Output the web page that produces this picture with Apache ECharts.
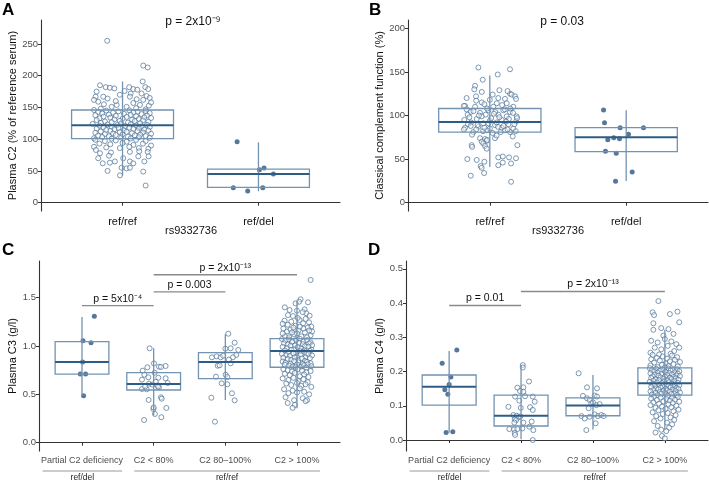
<!DOCTYPE html>
<html><head><meta charset="utf-8">
<script src="https://cdn.jsdelivr.net/npm/echarts@6/dist/echarts.min.js"></script>
<style>html,body{margin:0;padding:0;background:#fff}#c{width:709px;height:484px}</style>
</head><body><div id="c"></div><script>
const FONT = 'Liberation Sans, Arial, sans-serif';
const catsAB = ['ref/ref', 'ref/del'];
const catsCD = ['Partial C2 deficiency', 'C2 < 80%', 'C2 80\u2013100%', 'C2 > 100%'];
const ticksA = [0, 50, 100, 150, 200, 250];
const ticksB = [0, 50, 100, 150, 200];
const ticksC = [0, 0.5, 1.0, 1.5];
const ticksD = [0, 0.1, 0.2, 0.3, 0.4, 0.5];

// box stats: [category, whiskerLow, Q1, median, Q3, whiskerHigh]
const boxA = [[1, 42, 101, 122, 146, 191], [2, 18, 24, 45, 53, 95]];
const boxB = [[1, 41, 81, 92.5, 108, 146], [2, 25, 58.5, 75, 86, 106]];
const boxC = [[1, 0.483, 0.71, 0.835, 1.045, 1.30], [2, 0.28, 0.545, 0.607, 0.724, 0.976], [3, 0.442, 0.662, 0.835, 0.931, 1.121], [4, 0.356, 0.78, 0.948, 1.076, 1.465]];
const boxD = [[1, 0.021, 0.102, 0.156, 0.19, 0.26], [2, 0.002, 0.041, 0.071, 0.131, 0.219], [3, 0.031, 0.071, 0.101, 0.123, 0.19], [4, 0.029, 0.131, 0.166, 0.211, 0.322]];

// points: [jitter offset, value]
const A_refref = [[-0.113,255],[0.152,216],[0.185,213],[0.148,191],[-0.166,185],[-0.124,182],[-0.093,181],[-0.061,180],[0.049,182],[0.079,179],[0.108,178],[0.167,182],[0.189,179],[-0.191,175],[0.06,172],[0.14,172],[-0.198,167],[-0.142,167],[0.054,167],[0.177,168],[0.104,163],[0.152,162],[-0.179,159],[-0.137,155],[-0.043,154],[0.079,157],[0.128,154],[0.194,153],[-0.08,151],[0.03,151],
[-0.21,162],[-0.02,170],[0.2,165],[-0.16,148],[0.1,149],[-0.05,160],[0.17,147],[0.015,176],[-0.11,164],[0.21,158],
[-0.21,146],[0.05,145.5],[-0.12,145],[0.17,144.4],[-0.03,143.9],[0.11,143.3],[-0.18,142.8],[0.08,142.2],[-0.07,141.7],[0.2,141.1],
[-0.15,140.6],[0.01,140],[0.14,139.5],[-0.1,138.9],[0.06,138.4],[-0.2,137.8],[0.18,137.3],[-0.05,136.7],[0.1,136.2],[-0.14,135.6],
[0.03,135.1],[0.16,134.5],[-0.09,134],[0.21,133.4],[-0.17,132.9],[0.0,132.3],[0.12,131.8],[-0.06,131.2],[0.07,130.7],[-0.19,130.1],
[0.15,129.6],[-0.02,129],[0.09,128.5],[-0.13,127.9],[0.19,127.4],[-0.08,126.8],[0.04,126.3],[-0.16,125.7],[0.13,125.2],[-0.01,124.6],
[-0.22,124.1],[0.06,123.6],[-0.11,123.1],[0.18,122.6],[-0.04,122.1],[0.1,121.6],[-0.17,121.1],[0.02,120.6],[0.14,120.1],[-0.08,119.6],
[0.2,119.1],[-0.14,118.6],[0.05,118.1],[-0.03,117.6],[0.12,117.1],[-0.19,116.6],[0.08,116.1],[-0.06,115.6],[0.16,115.1],[-0.12,114.6],
[0.01,114.1],[0.19,113.6],[-0.09,113.1],[0.11,112.6],[-0.16,112.1],[0.03,111.6],[-0.02,111.1],[0.15,110.6],[-0.2,110.1],[0.07,109.6],
[-0.07,109.1],[0.21,108.6],[-0.13,108.1],[0.0,107.6],[0.13,107.1],[-0.05,106.6],[0.09,106.1],[-0.18,105.6],[0.17,105.1],[-0.1,104.6],
[0.04,104.1],[-0.15,103.6],[0.12,103.1],[-0.01,102.6],[0.2,102.1],[-0.21,101.6],[0.06,101.2],[-0.08,100.8],
[-0.2,99],[-0.13,97],[-0.05,98],[0.03,96],[0.1,99],[0.17,97],[-0.17,93],[-0.09,92],[0.0,94],[0.08,91],[0.15,93],[0.21,90],[-0.21,88],[-0.12,87],[-0.02,86],[0.05,88],[0.12,86],[0.19,85],
[-0.196,83],[-0.166,78],[-0.085,79],[0.054,80],[0.123,81],[0.185,80],[-0.179,70],[-0.1,74],[0.005,70],[0.116,73],[0.192,73],[-0.146,62],[-0.093,63],[-0.056,65],[0.054,65],[0.079,62],[0.16,65],[-0.11,50],[-0.007,55],[0.03,54],[0.054,55],[0.152,49],[-0.019,43],[0.17,27]];
const A_refdel = [[-0.157,96],[0.007,52],[0.041,54.7],[0.11,45.2],[-0.185,23.6],[0.032,23.6],[-0.079,18.4]];

const B_refref = [[-0.084,155],[0.148,153],[0.058,147],[-0.052,141],[-0.108,134],[-0.114,130],[0.07,129],[-0.059,127],[0.021,124],[0.148,125],[0.16,124],[-0.101,122],[0.185,122],[0.062,120],[0.111,119],[0.192,119],[-0.059,115],[-0.04,113],[0.051,114],[0.124,114],[-0.182,111],[-0.19,111],[-0.108,110],[0.026,110],[0.172,110],[-0.14,104],[-0.072,103],[-0.011,106],[0.099,106],[0.148,104],[-0.162,101],[-0.03,101],[0.062,101],[0.124,99],[0.197,99],[-0.187,95],[-0.096,96],[0,94],[0.087,95],[0.192,93],[-0.138,92],[-0.048,91],[0.038,89],[0.136,90],[-0.182,86],[-0.084,87],[0,85],[0.087,86],[0.172,85],[-0.121,81],[-0.023,83],[0.111,83],[0.148,81],[-0.072,74],[-0.035,73],[0.038,74],[0.168,76],[-0.059,70],[-0.023,71],[-0.048,68],[-0.133,66],[0.202,66],[-0.035,65],[-0.023,62],[-0.13,64],[-0.165,50],[-0.096,49],[-0.04,47],[0.062,52],[0.095,53],[0.141,52],[0.192,51],[0.062,43],[0.095,46],[0.156,45],[-0.067,42],[-0.06,40],[-0.042,34],[-0.14,31],[0.156,24],
[-0.17,107],[-0.12,105],[-0.02,108],[0.04,104],[0.11,107],[0.17,103],[-0.15,98],[-0.06,99],[0.01,97],[0.07,98],[0.14,96],[0.2,97],[-0.16,90],[-0.09,89],[-0.01,91],[0.05,92],[0.1,88],[0.18,90],[-0.19,84],[-0.1,84],[-0.05,82],[0.02,80],[0.08,81],[0.13,84],[0.19,82],[-0.14,88],[-0.04,86],[0.06,87],[0.12,93],[-0.08,100],[0.03,102],[0.15,108],[-0.1,117],[0.0,118],[0.09,112],[-0.17,120],[0.13,128],[-0.13,78],[0.05,77],[-0.02,72]];
const B_refdel = [[-0.166,106.3],[-0.159,91.7],[-0.044,86],[0.127,86],[0.017,78.4],[-0.091,74.4],[-0.135,72.3],[-0.049,73.4],[-0.152,59],[-0.073,56.6],[0.044,35.2],[-0.078,24.5]];

const C_partial = [[0.172,1.307],[0.014,1.055],[0.126,1.034],[0.008,0.834],[-0.024,0.71],[0.05,0.71],[0.022,0.486]];
const C_lt80 = [[-0.056,0.976],[0.004,0.82],[0.074,0.786],[0.102,0.783],[0.167,0.793],[-0.088,0.78],[-0.153,0.745],[-0.13,0.703],[0.014,0.724],[-0.074,0.676],[0.065,0.672],[0.167,0.666],[-0.163,0.652],[-0.065,0.61],[0.051,0.594],[0.195,0.617],[-0.163,0.555],[-0.098,0.552],[0.074,0.573],[0.102,0.469],[0.112,0.455],[-0.07,0.442],[-0.004,0.348],[0.177,0.359],[0.018,0.297],[0.107,0.263],[-0.134,0.235],[0.0,0.365],[-0.02,0.6],[0.06,0.58],[-0.12,0.58],[0.03,0.63]];
const C_80to100 = [[0.042,1.127],[0.13,1.034],[0.074,0.976],[0,0.972],[0.181,0.959],[0.153,0.907],[0.106,0.883],[-0.187,0.883],[-0.121,0.893],[-0.065,0.883],[-0.107,0.796],[-0.08,0.8],[0.074,0.821],[-0.131,0.683],[0.004,0.703],[0.028,0.679],[-0.051,0.614],[0.028,0.604],[-0.195,0.465],[0.092,0.511],[0.13,0.438],[-0.145,0.217],[0.05,0.86],[-0.03,0.9]];
const C_gt100 = [[0.19,1.683],[0.05,1.483],[0.03,1.458],[-0.02,1.441],[0.153,1.452],[-0.103,1.372],[0.0,1.365],[0.106,1.379],[-0.126,1.32],[-0.056,1.31],[0.13,1.338],[0.176,1.313],[0.08,1.35],[-0.17,1.40],
[-0.173,1.262],[-0.08,1.251],[0.036,1.269],[0.085,1.235],[0.168,1.245],[-0.13,1.22],[-0.02,1.21],[0.12,1.28],[0.2,1.2],[-0.2,1.23],[0.01,1.29],
[-0.19,1.18],[-0.14,1.15],[-0.09,1.17],[-0.04,1.12],[0.02,1.16],[0.06,1.1],[0.11,1.14],[0.15,1.19],[0.19,1.11],[-0.17,1.1],[-0.11,1.09],[-0.05,1.19],[0.0,1.13],[0.09,1.18],[0.14,1.09],[0.21,1.15],[-0.2,1.13],[0.04,1.2],[-0.07,1.14],[0.17,1.16],
[-0.21,1.072],[-0.16,1.058],[-0.11,1.067],[-0.06,1.049],[-0.01,1.063],[0.04,1.074],[0.09,1.046],[0.14,1.061],[0.19,1.037],
[-0.18,1.028],[-0.13,1.016],[-0.07,1.041],[-0.03,1.005],[0.03,1.033],[0.08,1.019],[0.11,0.997],[0.17,1.026],[0.21,1.008],
[-0.2,0.991],[-0.14,0.978],[-0.09,1.002],[-0.04,0.966],[0.01,0.987],[0.06,0.974],[0.1,0.958],[0.16,0.993],[0.2,0.962],
[-0.17,0.953],[-0.12,0.937],[-0.08,0.961],[-0.01,0.928],[0.04,0.946],[0.09,0.941],[0.13,0.923],[0.18,0.949],
[-0.21,0.918],[-0.15,0.905],[-0.1,0.897],[-0.05,0.924],[0.0,0.893],[0.05,0.912],[0.12,0.884],[0.16,0.916],[0.21,0.902],
[-0.19,0.878],[-0.13,0.866],[-0.08,0.857],[-0.03,0.882],[0.02,0.853],[0.07,0.871],[0.11,0.846],[0.18,0.874],
[-0.2,0.839],[-0.16,0.826],[-0.09,0.818],[-0.04,0.843],[0.02,0.831],[0.08,0.814],[0.14,0.836],[0.19,0.822],
[-0.17,0.806],[-0.11,0.797],[-0.06,0.788],[0.0,0.809],[0.06,0.785],[0.1,0.802],[0.15,0.811],[0.2,0.791],[-0.02,0.781],[0.13,0.776],
[-0.19,0.76],[-0.13,0.748],[-0.07,0.737],[0.01,0.757],[0.07,0.744],[0.13,0.728],[0.19,0.741],
[-0.17,0.713],[-0.1,0.698],[-0.03,0.722],[0.04,0.687],[0.1,0.706],[0.16,0.679],
[-0.2,0.664],[-0.12,0.648],[-0.05,0.671],[0.02,0.637],[0.09,0.657],[0.15,0.626],
[-0.15,0.612],[-0.08,0.596],[0.0,0.618],[0.06,0.588],[0.12,0.604],[0.2,0.577],
[-0.18,0.553],[-0.06,0.538],[0.04,0.561],[0.1,0.527],[0.17,0.5],[-0.12,0.512],[0.0,0.519],
[-0.16,0.47],[-0.04,0.44],[0.08,0.46],[0.14,0.44],[-0.13,0.41],[-0.03,0.39],[0.12,0.43],[-0.06,0.36]];

const D_partial = [[0.107,0.263],[-0.097,0.224],[0.024,0.184],[0,0.162],[-0.06,0.147],[-0.018,0.134],[-0.042,0.022],[0.051,0.024]];
const D_lt80 = [[0.024,0.219],[0.024,0.212],[0.111,0.171],[-0.051,0.153],[0.032,0.154],[-0.014,0.143],[0.032,0.141],[-0.083,0.127],[0.056,0.128],[0.163,0.127],[-0.024,0.115],[0.190,0.112],[-0.176,0.097],[-0.004,0.094],[0.125,0.096],[0.163,0.088],[-0.107,0.073],[-0.06,0.071],[-0.037,0.066],[-0.01,0.069],[-0.088,0.061],[-0.07,0.058],[-0.093,0.051],[0.032,0.051],[0.148,0.054],[-0.163,0.032],[-0.097,0.031],[-0.051,0.032],[0.018,0.034],[0.116,0.039],[0.171,0.029],[-0.088,0.021],[-0.083,0.015],[0.163,0.0]];
const D_80to100 = [[-0.199,0.195],[-0.083,0.154],[0.056,0.151],[-0.139,0.129],[-0.083,0.122],[-0.046,0.117],[0.024,0.13],[0.056,0.127],[-0.022,0.107],[0.046,0.102],[0.093,0.105],[-0.06,0.093],[-0.161,0.07],[-0.115,0.063],[-0.046,0.068],[0.024,0.075],[0.069,0.07],[0.116,0.073],[0.149,0.07],[0.038,0.049],[-0.092,0.029],[0.0,0.11]];
const D_gt100 = [[-0.09,0.406],[-0.17,0.373],[-0.15,0.365],[0.07,0.368],[0.175,0.375],[0.2,0.344],[-0.16,0.341],[-0.05,0.327],[0.05,0.324],[-0.16,0.322],[0.12,0.31],[-0.02,0.305],
[-0.19,0.29],[-0.1,0.285],[0.0,0.295],[0.09,0.288],[0.16,0.28],[-0.14,0.27],[-0.05,0.265],[0.04,0.275],[0.13,0.26],[0.2,0.27],[-0.2,0.255],[0.08,0.252],[-0.08,0.25],
[-0.17,0.249],[0.1,0.247],[-0.03,0.244],[0.17,0.242],[-0.11,0.24],[0.03,0.238],[-0.19,0.236],[0.14,0.234],[-0.07,0.232],[0.07,0.23],[0.21,0.228],[-0.15,0.226],[0.01,0.224],[0.12,0.222],[-0.04,0.22],[-0.2,0.218],[0.05,0.216],[0.18,0.215],[-0.1,0.213],[0.0,0.212],
[-0.21,0.210],[0.05,0.209],[-0.12,0.208],[0.17,0.207],[-0.03,0.206],[0.11,0.205],[-0.18,0.204],[0.08,0.203],[-0.07,0.202],[0.2,0.201],
[-0.15,0.200],[0.01,0.199],[0.14,0.198],[-0.1,0.197],[0.06,0.196],[-0.2,0.195],[0.18,0.194],[-0.05,0.193],[0.1,0.192],[-0.14,0.191],
[0.03,0.190],[0.16,0.189],[-0.09,0.188],[0.21,0.187],[-0.17,0.186],[0.0,0.185],[0.12,0.184],[-0.06,0.183],[0.07,0.182],[-0.19,0.181],
[0.15,0.180],[-0.02,0.179],[0.09,0.178],[-0.13,0.177],[0.19,0.176],[-0.08,0.175],[0.04,0.174],[-0.16,0.173],[0.13,0.172],[-0.01,0.171],
[-0.21,0.170],[0.06,0.169],[-0.11,0.168],[0.18,0.167],[-0.04,0.166],[0.1,0.165],[-0.17,0.164],[0.02,0.163],[0.14,0.162],[-0.08,0.161],
[0.2,0.160],[-0.14,0.159],[0.05,0.158],[-0.03,0.157],[0.12,0.156],[-0.19,0.155],[0.08,0.154],[-0.06,0.153],[0.16,0.152],[-0.12,0.151],
[0.01,0.150],[0.19,0.149],[-0.09,0.148],[0.11,0.147],[-0.16,0.146],[0.03,0.145],[-0.02,0.144],[0.15,0.143],[-0.2,0.142],[0.07,0.141],
[-0.07,0.140],[0.21,0.139],[-0.13,0.138],[0.0,0.137],[0.13,0.136],[-0.05,0.135],[0.09,0.134],[-0.18,0.133],[0.17,0.132],[-0.1,0.131],
[0.04,0.129],[-0.15,0.127],[0.18,0.126],[-0.06,0.124],[0.1,0.123],[-0.19,0.121],[0.02,0.12],[0.14,0.118],[-0.11,0.117],[0.07,0.115],
[-0.02,0.113],[0.2,0.112],[-0.16,0.11],[0.11,0.108],[-0.08,0.106],[0.05,0.104],[-0.2,0.102],[0.16,0.1],[-0.04,0.098],[0.09,0.096],
[-0.13,0.094],[0.01,0.091],[0.19,0.089],[-0.09,0.087],[0.12,0.084],[-0.17,0.081],[0.04,0.079],[-0.03,0.076],[0.15,0.073],[-0.12,0.07],
[0.08,0.066],[-0.06,0.063],[0.13,0.059],[-0.15,0.055],[0.03,0.051],[0.1,0.046],[-0.1,0.041],[0.06,0.036],[-0.05,0.03],[0.02,0.026],[-0.13,0.022],[-0.04,0.012],[0.0,0.005]];

// significance brackets: [fromCat, toCat, y]
const brC = [[1, 2, 1.417], [2, 3, 1.56], [2, 4, 1.737]];
const brCLabels = ['p = 5x10\u207B\u2074', 'p = 0.003', 'p = 2x10\u207B\u00B9\u00B3'];
const brD = [[1, 2, 0.393], [2, 4, 0.434]];
const brDLabels = ['p = 0.01', 'p = 2x10\u207B\u00B9\u00B3'];
// genotype groups under C/D axis: [fromX, toX]
const geno = [[0.45, 1.56], [1.73, 4.32]];
const genoLabels = ['ref/del', 'ref/ref'];

const HOLLOW = '#4b7195', FILLED = '#2a5580', BOXC = '#7393b1', MED = '#2e5c84';

function jit(cat, pts) { return pts.map(p => [cat + p[0], p[1]]); }

const chart = echarts.init(document.getElementById('c'), null, {renderer: 'canvas'});

const grids = [
  {left: 41, top: 20, width: 299, height: 191},
  {left: 408, top: 20, width: 300, height: 191},
  {left: 39, top: 261, width: 301, height: 190},
  {left: 406, top: 261, width: 302, height: 190}
];

function xAx(gi, cats, big) {
  const cv = cats.map((c, i) => i + 1);
  return {type: 'value', gridIndex: gi, min: 0.4, max: cats.length + 0.6,
    splitLine: {show: false},
    axisLine: {show: true, lineStyle: {color: '#333', width: 1.1}},
    axisTick: {show: true, length: 3, lineStyle: {color: '#333'}, customValues: cv},
    axisLabel: {customValues: cv, formatter: v => cats[Math.round(v) - 1],
      color: big ? '#111' : '#4d4d4d', fontSize: big ? 11 : 9, margin: big ? 5 : 5, fontFamily: FONT}};
}
function yAx(gi, min, max, ticks, dec, name, gap) {
  return {type: 'value', gridIndex: gi, min: min, max: max,
    splitLine: {show: false},
    axisLine: {show: true, lineStyle: {color: '#333', width: 1.1}},
    axisTick: {show: true, length: 3, lineStyle: {color: '#333'}, customValues: ticks},
    axisLabel: {customValues: ticks, formatter: v => v.toFixed(dec), color: '#4d4d4d', fontSize: 9.5, margin: 3, fontFamily: FONT},
    name: name, nameLocation: 'middle', nameGap: gap,
    nameTextStyle: {color: '#111', fontSize: 11, fontFamily: FONT}};
}

function hollowSeries(gi, data) {
  return {type: 'scatter', xAxisIndex: gi, yAxisIndex: gi, data: data, symbolSize: 5, z: 2,
    itemStyle: {color: 'rgba(255,255,255,0.55)', borderColor: HOLLOW, borderWidth: 0.9}, silent: true};
}
function filledSeries(gi, data) {
  return {type: 'scatter', xAxisIndex: gi, yAxisIndex: gi, data: data, symbolSize: 5, z: 2,
    itemStyle: {color: FILLED}, silent: true};
}
function boxSeries(gi, data) {
  return {type: 'custom', xAxisIndex: gi, yAxisIndex: gi, data: data, z: 3, silent: true,
    renderItem: function (params, api) {
      const c = api.value(0), lo = api.value(1), q1 = api.value(2), md = api.value(3), q3 = api.value(4), hi = api.value(5);
      const hw = 0.375;
      const tl = api.coord([c - hw, q3]), br = api.coord([c + hw, q1]);
      const wlo = api.coord([c, lo]), whi = api.coord([c, hi]);
      const ml = api.coord([c - hw, md]), mr = api.coord([c + hw, md]);
      return {type: 'group', children: [
        {type: 'line', shape: {x1: wlo[0], y1: wlo[1], x2: whi[0], y2: whi[1]}, style: {stroke: BOXC, lineWidth: 1.3}},
        {type: 'rect', shape: {x: tl[0], y: tl[1], width: br[0] - tl[0], height: br[1] - tl[1]}, style: {fill: null, stroke: BOXC, lineWidth: 1.3}},
        {type: 'line', shape: {x1: ml[0], y1: ml[1], x2: mr[0], y2: mr[1]}, style: {stroke: MED, lineWidth: 2}}
      ]};
    }};
}
function bracketSeries(gi, data, labels) {
  return {type: 'custom', xAxisIndex: gi, yAxisIndex: gi, data: data, z: 4, silent: true, clip: false,
    renderItem: function (params, api) {
      const a = api.coord([api.value(0), api.value(2)]), b = api.coord([api.value(1), api.value(2)]);
      return {type: 'group', children: [
        {type: 'line', shape: {x1: a[0], y1: a[1], x2: b[0], y2: b[1]}, style: {stroke: '#8a8a8a', lineWidth: 1.4}},
        {type: 'text', x: (a[0] + b[0]) / 2, y: a[1] - 1.5, style: {text: labels[params.dataIndex], fill: '#111', fontSize: 10.5, fontFamily: FONT, align: 'center', verticalAlign: 'bottom'}}
      ]};
    }};
}
function genoSeries(gi) {
  return {type: 'custom', xAxisIndex: gi, yAxisIndex: gi, data: geno, z: 4, silent: true, clip: false,
    renderItem: function (params, api) {
      const bottom = params.coordSys.y + params.coordSys.height;
      const a = api.coord([api.value(0), 0]), b = api.coord([api.value(1), 0]);
      return {type: 'group', children: [
        {type: 'line', shape: {x1: a[0], y1: bottom + 20, x2: b[0], y2: bottom + 20}, style: {stroke: '#9a9a9a', lineWidth: 1}},
        {type: 'text', x: (a[0] + b[0]) / 2, y: bottom + 27, style: {text: genoLabels[params.dataIndex], fill: '#222', fontSize: 8.5, fontFamily: FONT, align: 'center', verticalAlign: 'middle'}}
      ]};
    }};
}

function txt(text, x, y, size) {
  return {type: 'text', x: x, y: y, silent: true,
    style: {text: text, fill: '#111', fontSize: size, fontFamily: FONT, align: 'center', verticalAlign: 'middle'}};
}

const option = {
  animation: false,
  grid: grids,
  xAxis: [xAx(0, catsAB, true), xAx(1, catsAB, true), xAx(2, catsCD, false), xAx(3, catsCD, false)],
  yAxis: [
    yAx(0, -13.1, 287.8, ticksA, 0, 'Plasma C2 (% of reference serum)', 21),
    yAx(1, -9.5, 209.5, ticksB, 0, 'Classical complement function (%)', 21),
    yAx(2, -0.086, 1.879, ticksC, 1, 'Plasma C3 (g/l)', 19),
    yAx(3, -0.032, 0.523, ticksD, 1, 'Plasma C4 (g/l)', 19)
  ],
  series: [
    hollowSeries(0, jit(1, A_refref)), filledSeries(0, jit(2, A_refdel)), boxSeries(0, boxA),
    hollowSeries(1, jit(1, B_refref)), filledSeries(1, jit(2, B_refdel)), boxSeries(1, boxB),
    filledSeries(2, jit(1, C_partial)), hollowSeries(2, jit(2, C_lt80).concat(jit(3, C_80to100), jit(4, C_gt100))), boxSeries(2, boxC),
    bracketSeries(2, brC, brCLabels), genoSeries(2),
    filledSeries(3, jit(1, D_partial)), hollowSeries(3, jit(2, D_lt80).concat(jit(3, D_80to100), jit(4, D_gt100))), boxSeries(3, boxD),
    bracketSeries(3, brD, brDLabels), genoSeries(3)
  ],
  graphic: [
    {type: 'text', x: 2, y: 2, silent: true, style: {text: 'A', fill: '#000', fontSize: 17, fontWeight: 'bold', fontFamily: FONT}},
    {type: 'text', x: 369, y: 2, silent: true, style: {text: 'B', fill: '#000', fontSize: 17, fontWeight: 'bold', fontFamily: FONT}},
    {type: 'text', x: 2, y: 242, silent: true, style: {text: 'C', fill: '#000', fontSize: 17, fontWeight: 'bold', fontFamily: FONT}},
    {type: 'text', x: 368, y: 242, silent: true, style: {text: 'D', fill: '#000', fontSize: 17, fontWeight: 'bold', fontFamily: FONT}},
    txt('p = 2x10\u207B\u2079', 193, 22, 12),
    txt('p = 0.03', 562, 22, 12),
    txt('rs9332736', 191, 231, 11),
    txt('rs9332736', 558, 231, 11)
  ]
};
chart.setOption(option);
</script></body></html>
